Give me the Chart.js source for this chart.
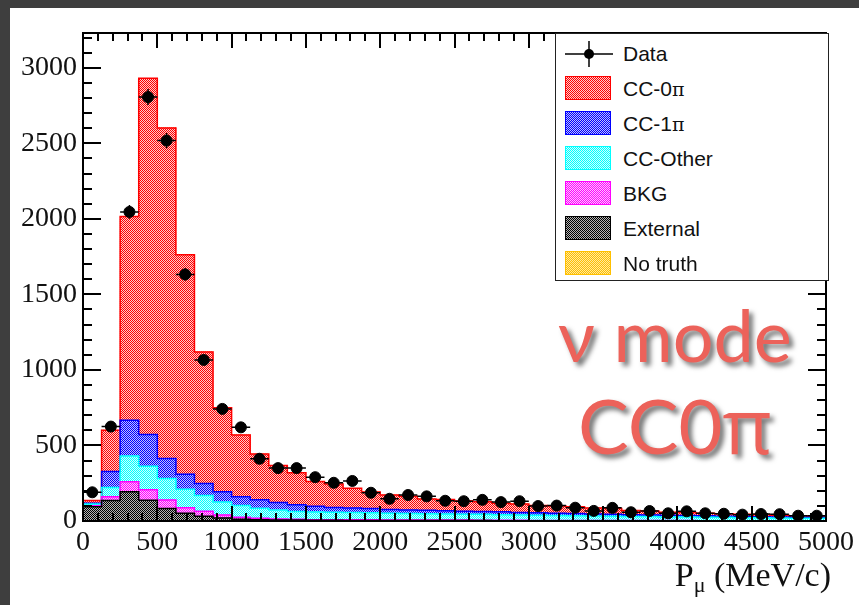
<!DOCTYPE html>
<html>
<head>
<meta charset="utf-8">
<title>P mu distribution - nu mode CC0pi</title>
<script src="https://cdn.jsdelivr.net/npm/chart.js@4.4.1/dist/chart.umd.min.js"></script>
<style>
	html, body { margin: 0; padding: 0; }
	body { width: 859px; height: 605px; background: #3e3e3e; position: relative; overflow: hidden; }
	#panel { position: absolute; left: 10px; top: 8px; right: 0; bottom: 0; background: #fff; }
	#chart { position: absolute; left: 0; top: 0; }
	#legend { position: absolute; left: 555px; top: 33px; width: 272px; height: 246px; background: #fff;
		border: 1px solid #222; font-family: "Liberation Sans", Arial, sans-serif; font-size: 21px; color: #111; }
	#legend .row { position: absolute; left: 0; height: 35px; width: 100%; }
	#legend .sw { position: absolute; left: 9px; top: 4px; width: 46px; height: 24px; box-sizing: border-box; border: 1px solid; }
	#legend .lbl { position: absolute; left: 67px; top: 4px; line-height: 26px; }
	#legend .pi { font-family: "DejaVu Serif", "Liberation Serif", serif; font-size: 19px; }
	.mark { position: absolute; font-family: Lato, "Open Sans", sans-serif; color: #ec625a; text-align: center;
		left: 545px; width: 260px; font-size: 72px; line-height: 72px; text-shadow: 4px 4px 5px rgba(0,0,0,0.55); }
	.mark .gpi { font-family: "Open Sans", sans-serif; }
	#xtitle { position: absolute; right: 28px; top: 556px; font-family: "Liberation Serif", serif; font-size: 34px; color: #111; }
	#xtitle sub { font-size: 22px; vertical-align: -6px; }
</style>
</head>
<body>
<div id="panel"></div>
<canvas id="chart" width="859" height="605"></canvas>
<div id="legend"></div>
<div class="mark" style="top: 298px;">ν mode</div>
<div class="mark" style="top: 389px; font-size: 76px;">CC0<span class="gpi">π</span></div>
<div id="xtitle">P<sub>μ</sub> (MeV/c)</div>
<script>
(function() {
	'use strict';

	// bin centres (MeV/c), 125 MeV/c wide bins
	const binCenters = [62.5, 187.5, 312.5, 437.5, 562.5, 687.5, 812.5, 937.5, 1062.5, 1187.5,
		1312.5, 1437.5, 1562.5, 1687.5, 1812.5, 1937.5, 2062.5, 2187.5, 2312.5, 2437.5,
		2562.5, 2687.5, 2812.5, 2937.5, 3062.5, 3187.5, 3312.5, 3437.5, 3562.5, 3687.5,
		3812.5, 3937.5, 4062.5, 4187.5, 4312.5, 4437.5, 4562.5, 4687.5, 4812.5, 4937.5];
	const halfBin = 62.5;

	const dataCounts = [190, 625, 2046, 2806, 2518, 1632, 1066, 742, 620, 412,
		350, 350, 290, 253, 265, 187, 147, 172, 163, 134,
		131, 140, 125, 131, 99, 102, 88, 67, 87, 58,
		66, 51, 64, 51, 48, 42, 46, 45, 35, 35];

	// MC components, bottom of the stack first
	const external = [95, 135, 194, 137, 82, 51, 31, 20, 12, 8,
		7, 6, 5, 5, 4, 4, 4, 3, 3, 3,
		3, 3, 2, 2, 2, 2, 2, 2, 2, 2,
		1, 1, 1, 1, 1, 1, 1, 1, 1, 1];
	const bkg = [6, 25, 66, 70, 57, 37, 33, 20, 12, 10,
		6, 5, 4, 4, 4, 4, 3, 4, 3, 3,
		3, 2, 3, 3, 2, 2, 2, 2, 1, 1,
		2, 2, 2, 1, 1, 1, 1, 1, 1, 1];
	const ccOther = [11, 62, 170, 155, 143, 122, 104, 85, 78, 66,
		60, 52, 51, 49, 48, 46, 44, 42, 42, 40,
		39, 39, 37, 35, 34, 32, 31, 29, 29, 27,
		26, 24, 23, 23, 22, 20, 19, 18, 17, 16];
	const cc1pi = [5, 106, 237, 211, 132, 100, 81, 68, 59, 57,
		50, 45, 37, 32, 30, 29, 25, 24, 23, 22,
		20, 19, 19, 17, 16, 16, 14, 13, 12, 12,
		11, 11, 10, 9, 8, 8, 7, 7, 6, 6];
	const cc0pi = [18, 273, 1349, 2357, 2188, 1452, 870, 556, 409, 302,
		245, 212, 165, 155, 130, 109, 96, 90, 75, 75,
		68, 65, 57, 56, 49, 47, 45, 40, 39, 28,
		26, 20, 20, 18, 16, 15, 13, 11, 9, 6];
	const noTruth = [0, 0, 0, 0, 0, 0, 0, 0, 0, 0,
		0, 0, 0, 0, 0, 0, 0, 0, 0, 0,
		0, 0, 0, 0, 0, 0, 0, 0, 0, 0,
		0, 0, 0, 0, 0, 0, 0, 0, 0, 0];

	const xTicks = [0, 500, 1000, 1500, 2000, 2500, 3000, 3500, 4000, 4500, 5000];
	const yTicks = [0, 500, 1000, 1500, 2000, 2500, 3000];

	const components = [
		{ label: 'External', values: external, color: '#000000', light: '#b4b4b4' },
		{ label: 'BKG', values: bkg, color: '#ff00ff', light: '#ffc8ff' },
		{ label: 'CC-Other', values: ccOther, color: '#00ffff', light: '#d0ffff' },
		{ label: 'CC-1π', values: cc1pi, color: '#0000ff', light: '#c0c0ff' },
		{ label: 'CC-0π', values: cc0pi, color: '#ff0000', light: '#ffcccc' },
		{ label: 'No truth', values: noTruth, color: '#ffc000', light: '#ffe8a0' }
	];

	/**
	 * ROOT style dotted fill
	 */
	function makePattern(color, light) {
		const c = document.createElement('canvas');
		c.width = 2;
		c.height = 2;
		const g = c.getContext('2d');
		g.fillStyle = light;
		g.fillRect(0, 0, 2, 2);
		g.fillStyle = color;
		g.fillRect(0, 0, 1, 1);
		g.fillRect(1, 1, 1, 1);
		return g.createPattern(c, 'repeat');
	}

	/**
	 * Build datasets: stacked bars, step outlines, data points
	 */
	function buildDatasets() {
		const sets = [];
		const running = binCenters.map(() => 0);

		components.forEach((comp, k) => {
			sets.push({
				type: 'bar',
				label: comp.label,
				data: binCenters.map((c, i) => ({ x: c, y: comp.values[i] })),
				backgroundColor: makePattern(comp.color, comp.light),
				borderWidth: 0,
				barPercentage: 1,
				categoryPercentage: 1,
				stack: 'mc',
				order: 3
			});

			comp.values.forEach((v, i) => { running[i] += v; });
			if (comp.values.every(v => v === 0)) return;

			// step outline on the top of this layer
			const outline = binCenters.map((c, i) => ({ x: c - halfBin, y: running[i] }));
			outline.push({ x: binCenters[binCenters.length - 1] + halfBin, y: running[running.length - 1] });
			sets.push({
				type: 'line',
				label: '_outline' + k,
				data: outline,
				borderColor: comp.color,
				borderWidth: 1.5,
				pointRadius: 0,
				fill: false,
				stepped: true,
				stack: 'outline' + k,
				order: 2
			});
		});

		sets.push({
			type: 'line',
			label: 'Data',
			data: binCenters.map((c, i) => ({ x: c, y: dataCounts[i] })),
			showLine: false,
			pointRadius: 5.5,
			pointBackgroundColor: '#000',
			pointBorderColor: '#000',
			stack: 'data',
			order: 0
		});
		return sets;
	}

	/**
	 * Error bars for the data points
	 */
	const errorBars = {
		id: 'errorBars',
		afterDatasetsDraw(chart) {
			const xs = chart.scales.x;
			const ys = chart.scales.y;
			const ctx = chart.ctx;
			ctx.save();
			ctx.strokeStyle = '#000';
			ctx.lineWidth = 1.5;
			binCenters.forEach((c, i) => {
				const v = dataCounts[i];
				const err = Math.sqrt(v);
				const py = ys.getPixelForValue(v);
				ctx.beginPath();
				ctx.moveTo(xs.getPixelForValue(c - halfBin), py);
				ctx.lineTo(xs.getPixelForValue(c + halfBin), py);
				ctx.moveTo(xs.getPixelForValue(c), ys.getPixelForValue(v - err));
				ctx.lineTo(xs.getPixelForValue(c), ys.getPixelForValue(v + err));
				ctx.stroke();
			});
			ctx.restore();
		}
	};

	/**
	 * Frame with inward ticks on all four sides
	 */
	const rootFrame = {
		id: 'rootFrame',
		afterDraw(chart) {
			const a = chart.chartArea;
			const xs = chart.scales.x;
			const ys = chart.scales.y;
			const ctx = chart.ctx;
			ctx.save();
			ctx.strokeStyle = '#000';
			ctx.lineWidth = 2;
			ctx.strokeRect(a.left, a.top, a.right - a.left, a.bottom - a.top);
			ctx.beginPath();
			for (let v = 0; v <= 5000; v += 100) {
				const px = Math.round(xs.getPixelForValue(v));
				const len = v % 500 === 0 ? 15 : 8;
				ctx.moveTo(px, a.bottom);
				ctx.lineTo(px, a.bottom - len);
				ctx.moveTo(px, a.top);
				ctx.lineTo(px, a.top + len);
			}
			for (let v = 0; v <= 3200; v += 100) {
				const py = Math.round(ys.getPixelForValue(v));
				const len = v % 500 === 0 ? 18 : 9;
				ctx.moveTo(a.left, py);
				ctx.lineTo(a.left + len, py);
				ctx.moveTo(a.right, py);
				ctx.lineTo(a.right - len, py);
			}
			ctx.stroke();
			ctx.restore();
		}
	};

	/**
	 * Legend in the ROOT TLegend style
	 */
	function buildLegend() {
		const box = document.getElementById('legend');
		const rows = [{ label: 'Data', data: true }].concat(components.map(c => ({
			label: c.label, color: c.color, light: c.light
		})));
		const order = ['Data', 'CC-0π', 'CC-1π', 'CC-Other', 'BKG', 'External', 'No truth'];
		order.forEach((name, i) => {
			const r = rows.find(x => x.label === name);
			const row = document.createElement('div');
			row.className = 'row';
			row.style.top = (3 + i * 35) + 'px';
			let sym;
			if (r.data) {
				sym = '<svg style="position:absolute;left:9px;top:2px" width="48" height="30">' +
					'<line x1="0" y1="15" x2="48" y2="15" stroke="#000" stroke-width="1.5"/>' +
					'<line x1="24" y1="2" x2="24" y2="28" stroke="#000" stroke-width="1.5"/>' +
					'<circle cx="24" cy="15" r="5" fill="#000"/></svg>';
			} else {
				sym = '<div class="sw" style="border-color:' + r.color + ';background:repeating-conic-gradient(' +
					r.color + ' 0 25%, ' + r.light + ' 0 50%) 0 0/2px 2px"></div>';
			}
			const text = name.replace('π', '<span class="pi">π</span>');
			row.innerHTML = sym + '<div class="lbl">' + text + '</div>';
			box.appendChild(row);
		});
	}

	const serif = '"Liberation Serif", "Times New Roman", serif';

	new Chart(document.getElementById('chart'), {
		type: 'bar',
		data: { datasets: buildDatasets() },
		options: {
			responsive: false,
			animation: false,
			layout: { padding: { left: 0, top: 33, right: 30, bottom: 0 } },
			plugins: {
				legend: { display: false },
				tooltip: { enabled: false }
			},
			scales: {
				x: {
					type: 'linear',
					min: 0,
					max: 5000,
					offset: false,
					stacked: true,
					grid: { display: false, drawTicks: false },
					border: { display: false },
					afterBuildTicks: s => { s.ticks = xTicks.map(v => ({ value: v })); },
					ticks: {
						color: '#111',
						font: { family: serif, size: 28 },
						padding: 5,
						maxRotation: 0,
						autoSkip: false,
						callback: v => String(v)
					},
					afterFit: s => { s.height = 84; }
				},
				y: {
					min: 0,
					max: 3230,
					stacked: true,
					grid: { display: false, drawTicks: false },
					border: { display: false },
					afterBuildTicks: s => { s.ticks = yTicks.map(v => ({ value: v })); },
					ticks: {
						color: '#111',
						font: { family: serif, size: 28 },
						padding: 6,
						callback: v => String(v)
					},
					afterFit: s => { s.width = 83; }
				}
			}
		},
		plugins: [errorBars, rootFrame]
	});

	buildLegend();
})();
</script>
</body>
</html>
